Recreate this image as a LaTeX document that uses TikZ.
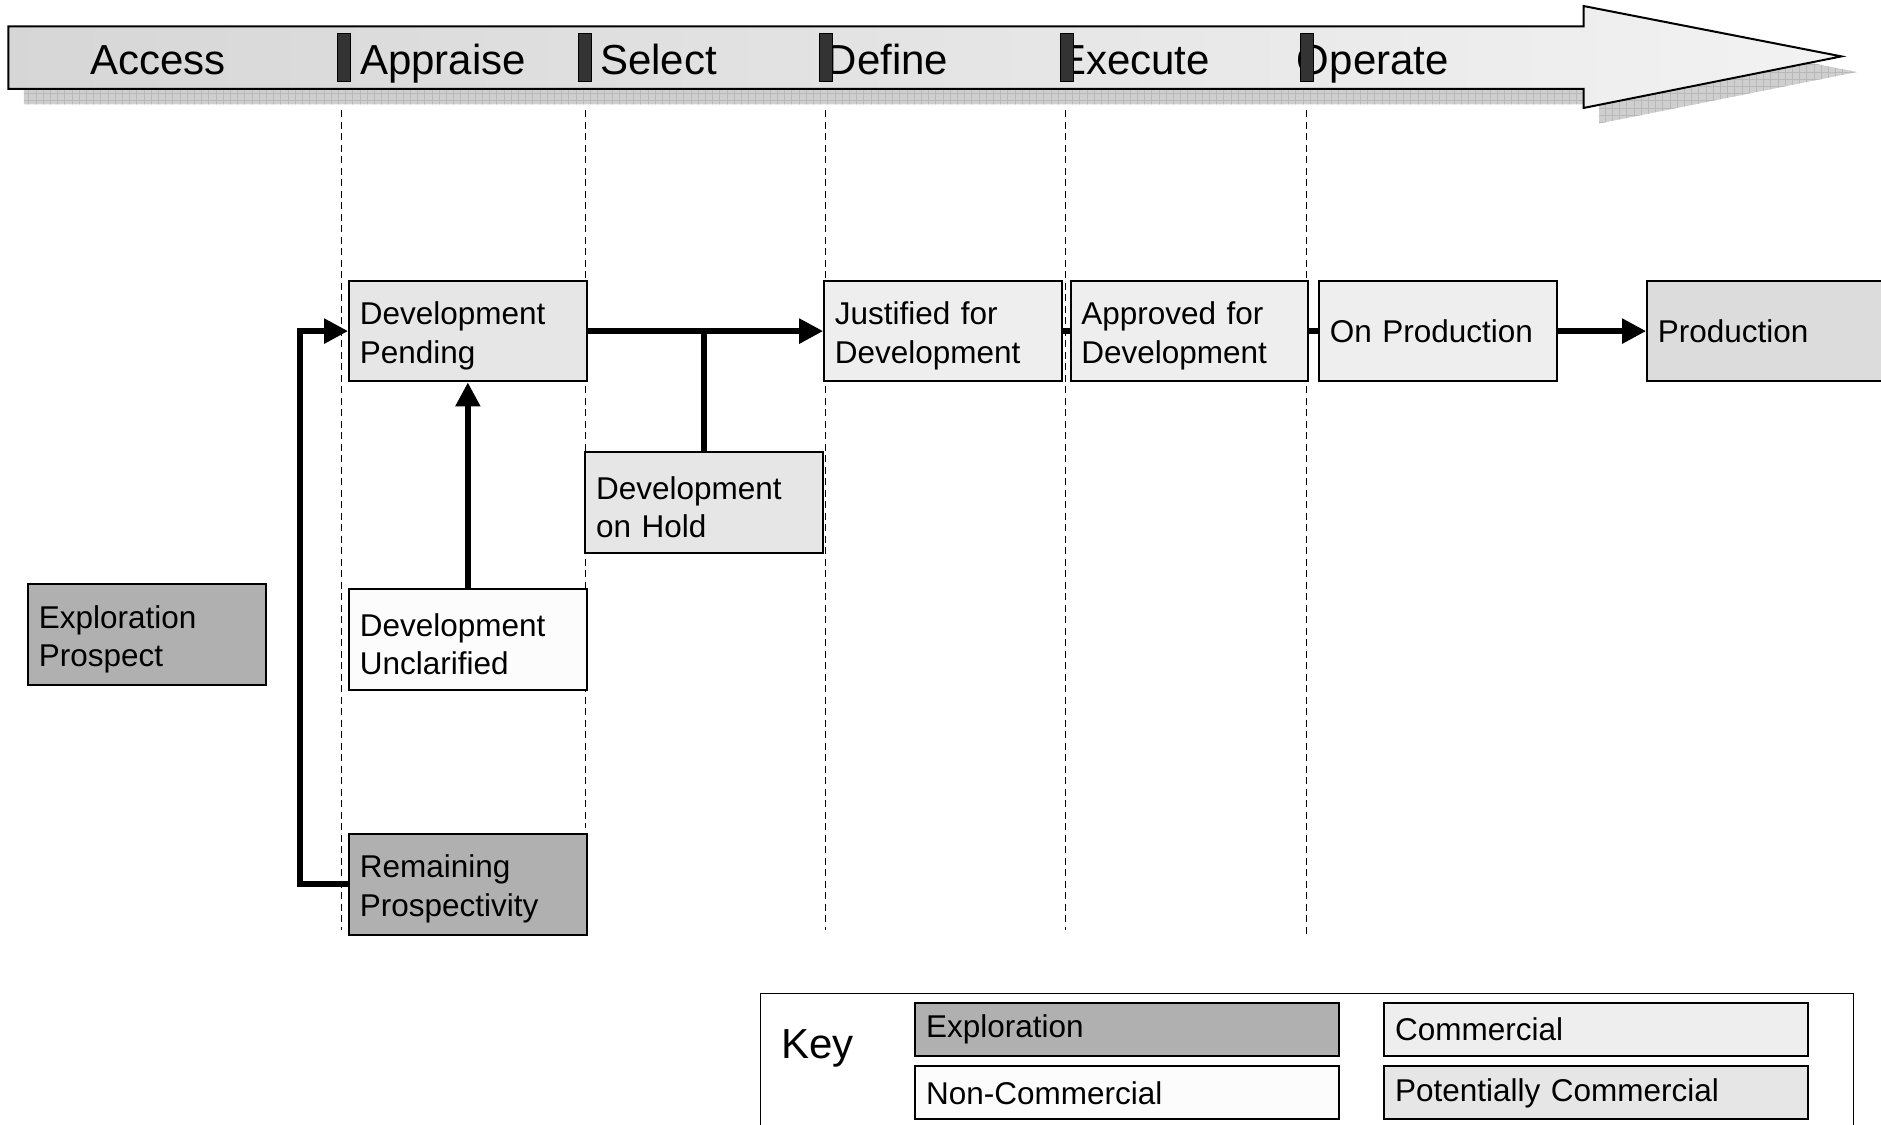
\documentclass[tikz,border=0pt]{standalone}
\usepackage{fontspec}
\setmainfont{Liberation Sans}
\usetikzlibrary{arrows.meta}
\definecolor{explc}{HTML}{B0B0B0}
\definecolor{potc}{HTML}{E6E6E6}
\definecolor{comc}{HTML}{EEEEEE}
\definecolor{nonc}{HTML}{FCFCFC}
\definecolor{prodc}{HTML}{DCDCDC}
\definecolor{barc}{HTML}{333333}
\definecolor{shadc}{HTML}{CFCFCF}
\definecolor{shadl}{HTML}{B9B9B9}
\begin{document}
\begin{tikzpicture}[x=1.2pt,y=-1.2pt,
  box/.style={draw, line width=2pt, minimum height=100.8pt, inner xsep=10.8pt, inner ysep=0pt,
    text width=216pt, align=left, font=\fontsize{31.5}{38.4}\selectfont},
  twoline/.style={execute at begin node={\rule{0pt}{32.6pt}}},
  legbox/.style={draw, line width=2pt, minimum height=52.8pt, inner xsep=10.8pt, inner ysep=0pt,
    text width=402pt, align=left, font=\fontsize{31.5}{38.4}\selectfont},
  stage/.style={anchor=base west, inner sep=0pt, font=\fontsize{42}{48}\selectfont},
  stagebar/.style={fill=barc, draw=black, line width=1pt},
  guide/.style={line width=1.2pt, dash pattern=on 7pt off 4.5pt},
  conn/.style={line width=5.5pt},
  connarrow/.style={line width=5.5pt, -{Triangle[length=24pt,width=24pt]}}
]
\useasboundingbox (0,0) rectangle (1568,937);
% banner shadow
\begin{scope}
  \clip (20,35) -- (1333,35) -- (1333,18) -- (1548,60) -- (1333,103) -- (1333,87) -- (20,87) -- cycle;
  \fill[shadc] (0,0) rectangle (1568,110);
  \draw[shadl, line width=0.6pt, step=7.2pt] (0,0) grid (1568,110);
\end{scope}
% banner arrow
\shade[left color=black!16, right color=black!5] (7,22) -- (1320,22) -- (1320,5) -- (1535,47) -- (1320,90) -- (1320,74) -- (7,74) -- cycle;
\draw[line width=2pt] (7,22) -- (1320,22) -- (1320,5) -- (1535,47) -- (1320,90) -- (1320,74) -- (7,74) -- cycle;
% stage labels
\node[stage] (sAccess) at (75,62) {Access};
\node[stage] (sAppraise) at (300,62) {Appraise};
\node[stage] (sSelect) at (500,62) {Select};
\node[stage] (sDefine) at (689,62) {Define};
\node[stage] (sExecute) at (882,62) {Execute};
\node[stage] (sOperate) at (1081,62) {Operate};
\foreach \bx in {281,482,683,884,1084}
  \draw[stagebar] (\bx,28) rectangle (\bx+11,68);
% guide lines
\draw[guide] (285,92) -- (285,775);
\draw[guide] (488,92) -- (488,690);
\draw[guide] (688,92) -- (688,775);
\draw[guide] (888,92) -- (888,775);
\draw[guide] (1089,92) -- (1089,780);
% boxes
\node[box, twoline, fill=potc] (pend) at (390,276) {Development\\Pending};
\node[box, twoline, fill=comc] (just) at (786,276) {Justified for\\Development};
\node[box, twoline, fill=comc] (appr) at (991.5,276) {Approved for\\Development};
\node[box, fill=comc] (onprod) at (1198.5,276) {On Production};
\node[box, fill=prodc, text width=240pt] (prod) at (1482,276) {Production};
\node[box, twoline, fill=potc] (hold) at (587,419) {Development\\on Hold};
\node[box, twoline, fill=nonc] (uncl) at (390,533) {Development\\Unclarified};
\node[box, twoline, fill=explc] (expl) at (122.5,529) {Exploration\\Prospect};
\node[box, twoline, fill=explc] (rem) at (390,737) {Remaining\\Prospectivity};
% connectors
\draw[connarrow] (rem.west) -- ++(-40,0) |- (pend.west);
\draw[connarrow] (uncl.north) -- (pend.south);
\draw[connarrow] (pend.east) -- (just.west);
\draw[conn] (hold.north) -- (hold.north |- pend.east);
\draw[conn] (just.east) -- (appr.west);
\draw[conn] (appr.east) -- (onprod.west);
\draw[connarrow] (onprod.east) -- (prod.west);
% key
\draw[line width=1.5pt] (634,828) rectangle (1545,950);
\node[stage] (keylbl) at (651,882) {Key};
\node[legbox, fill=explc] (kexpl) at (939.5,858) {Exploration};
\node[legbox, fill=nonc] (knon) at (939.5,911) {Non-Commercial};
\node[legbox, fill=comc] (kcom) at (1330.5,858) {Commercial};
\node[legbox, fill=potc] (kpot) at (1330.5,911) {Potentially Commercial};
\end{tikzpicture}
\end{document}
